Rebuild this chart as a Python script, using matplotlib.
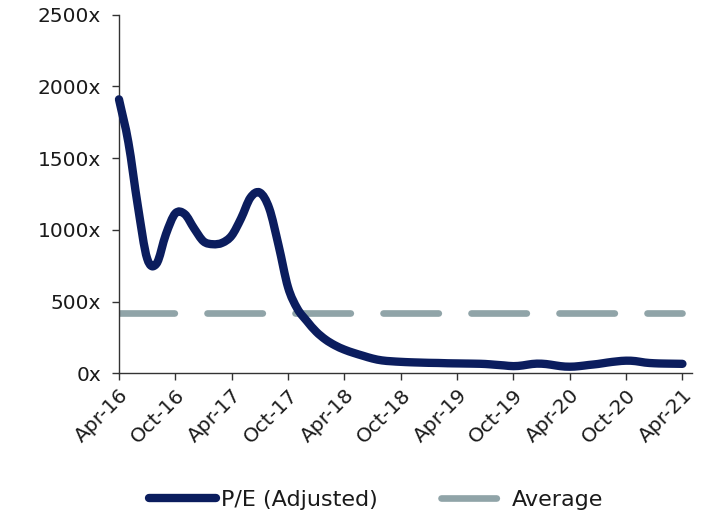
import matplotlib
matplotlib.use("Agg")
import matplotlib.pyplot as plt
from matplotlib.path import Path
from matplotlib.patches import PathPatch
from matplotlib.lines import Line2D
import numpy as np

# ---- data ----
months = list(range(61))  # monthly, Apr-16 .. Apr-21
pe_adjusted = [1910, 1610, 1170, 800, 765, 970, 1115, 1110, 1010, 920,
               900, 910, 960, 1080, 1225, 1260, 1150, 890, 600, 450,
               365, 290, 235, 195, 165, 142, 122, 103, 90, 84,
               80, 77, 75, 73, 72, 70, 69, 68, 67, 65,
               60, 55, 50, 55, 65, 67, 60, 50, 46, 50,
               58, 65, 75, 83, 88, 85, 75, 70, 68, 67, 66]
average_value = 420
tick_labels = ["Apr-16", "Oct-16", "Apr-17", "Oct-17", "Apr-18", "Oct-18",
               "Apr-19", "Oct-19", "Apr-20", "Oct-20", "Apr-21"]
tick_positions = list(range(0, 61, 6))
y_ticks = [0, 500, 1000, 1500, 2000, 2500]

plt.rcParams['font.family'] = ['DejaVu Sans']

navy = "#0b1d5e"
grey = "#90a4a8"
text_col = "#1a1a1a"


def smooth_path(xs, ys):
    """Smooth (Catmull-Rom) curve through the data points, as a Bezier path."""
    xs = np.asarray(xs, float)
    ys = np.asarray(ys, float)
    n = len(xs)
    t = np.zeros(n)
    t[1:-1] = (ys[2:] - ys[:-2]) / (xs[2:] - xs[:-2])
    t[0] = (ys[1] - ys[0]) / (xs[1] - xs[0])
    t[-1] = (ys[-1] - ys[-2]) / (xs[-1] - xs[-2])
    verts = [(xs[0], ys[0])]
    codes = [Path.MOVETO]
    for i in range(n - 1):
        dx = (xs[i + 1] - xs[i]) / 3
        verts += [(xs[i] + dx, ys[i] + dx * t[i]),
                  (xs[i + 1] - dx, ys[i + 1] - dx * t[i + 1]),
                  (xs[i + 1], ys[i + 1])]
        codes += [Path.CURVE4] * 3
    return Path(verts, codes)


fig = plt.figure(figsize=(7.02, 5.13), dpi=100)
ax = fig.add_axes([0.1695, 0.2723, 0.816, 0.699])

patch = PathPatch(smooth_path(months, pe_adjusted), facecolor='none',
                  edgecolor=navy, lw=6, capstyle='round', joinstyle='round',
                  zorder=3, clip_on=False)
ax.add_patch(patch)
ax.plot([months[0], months[-1]], [average_value, average_value], color=grey, lw=4.8,
        dashes=(8.3, 4.9), dash_capstyle='round', zorder=2)

ax.set_xlim(0, 61)
ax.set_ylim(0, 2500)
ax.set_yticks(y_ticks)
ax.set_yticklabels([f"{v}x" for v in y_ticks])
ax.set_xticks(tick_positions)
ax.set_xticklabels(tick_labels, rotation=45, ha='right', va='top',
                   rotation_mode='anchor')

for s in ['top', 'right']:
    ax.spines[s].set_visible(False)
for s in ['left', 'bottom']:
    ax.spines[s].set_color('#333333')
    ax.spines[s].set_linewidth(1.0)
ax.tick_params(axis='both', length=5, width=1, color='#333333', labelcolor=text_col)
ax.tick_params(axis='y', labelsize=14.5, pad=8)
ax.tick_params(axis='x', labelsize=14.5, pad=4)

handles = [Line2D([0], [0], color=navy, lw=6, solid_capstyle='round'),
           Line2D([0], [0], color=grey, lw=4.8, dashes=(8.3, 4.9), dash_capstyle='round')]
leg = fig.legend(handles, ["P/E (Adjusted)", "Average"], loc='center',
                 bbox_to_anchor=(0.536, 0.025), ncol=2,
                 frameon=False, fontsize=16, handlelength=3.0,
                 columnspacing=2.85, handletextpad=0.2, borderpad=0)
for txt in leg.get_texts():
    txt.set_color(text_col)

fig.savefig("out.png", dpi=100)
